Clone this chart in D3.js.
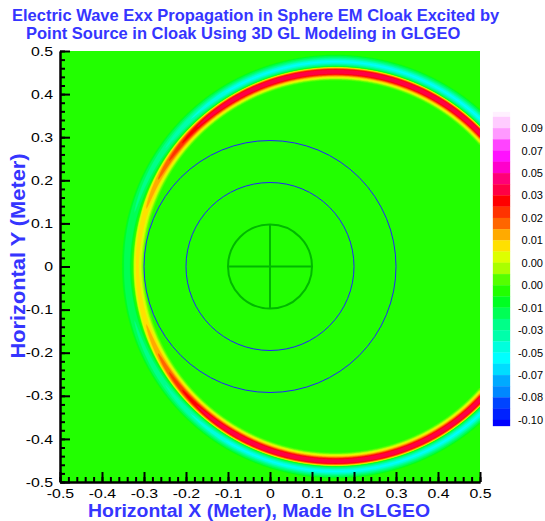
<!DOCTYPE html>
<html><head><meta charset="utf-8">
<script src="https://cdn.jsdelivr.net/npm/d3@7"></script>
<style>
body{margin:0;background:#fff}
svg{display:block}
text{font-family:'Liberation Sans',Arial,Helvetica,sans-serif}
</style>
</head><body>
<svg id="chart" width="545" height="521"></svg>
<script>
// ---------- data ----------
const titleLines = ["Electric Wave Exx Propagation in Sphere EM Cloak Excited by",
                    "Point Source in Cloak Using 3D GL Modeling in GLGEO"];
const xTitle = "Horizontal X (Meter), Made In GLGEO";
const yTitle = "Horizontal Y (Meter)";
const xTicks = [-0.5,-0.4,-0.3,-0.2,-0.1,0,0.1,0.2,0.3,0.4,0.5];
const yTicks = [-0.5,-0.4,-0.3,-0.2,-0.1,0,0.1,0.2,0.3,0.4,0.5];
const xTickLabels = ["-0.5","-0.4","-0.3","-0.2","-0.1","0","0.1","0.2","0.3","0.4","0.5"];
const yTickLabels = ["-0.5","-0.4","-0.3","-0.2","-0.1","0","0.1","0.2","0.3","0.4","0.5"];
// legend labels, top to bottom
const legendLabels = ["0.09","0.07","0.05","0.03","0.02","0.01","0.00","0.00","-0.01","-0.03","-0.05","-0.07","-0.08","-0.10"];
// contour level boundaries, top (high) to bottom (low)
const levelValues = [0.10,0.09,0.08,0.07,0.06,0.05,0.04,0.03,0.025,0.02,0.015,0.01,0.006,0.003,0.0015,0.0005,
                     -0.005,-0.01,-0.02,-0.03,-0.04,-0.05,-0.06,-0.07,-0.075,-0.08,-0.09,-0.10];
// band colours, top to bottom (one more than boundaries)
const levelColors = ["#fff0ff","#ffccff","#ff99ff","#ff44ff","#ff11ff","#ff00cc","#ff0077","#ff0044","#ff0000",
                     "#ff3300","#ff6600","#ffaa00","#ffe000","#ddff00","#aaff00","#55ff00","#22ff00","#00ff22",
                     "#00ff55","#00ff88","#00ffaa","#00ffdd","#00ffff","#00ddff","#00aaff","#0088ff","#0044ff",
                     "#0022ff","#0000ff"];
// wave front (ellipse around the displaced source), metres
const ringCenter = [0.156, 0];
const ringRadii = [0.472, 0.452];
// lobe shape, metres: positive width, negative offset (outward), negative width
const ringShape = [0.0095, 0.0238, 0.0107];
// amplitude of the two lobes versus angle around the front (deg, 0 = +x)
const ringAngles = [0, 120, 130, 145, 155, 165, 180];
const ringPos    = [0.039, 0.039, 0.034, 0.022, 0.014, 0.009, 0.007];
const ringNeg    = [-0.052, -0.052, -0.044, -0.03, -0.025, -0.02, -0.016];
// cloak geometry
const cloakRadii = [0.2, 0.3];
const coreRadius = 0.1;

// ---------- layout ----------
const svg = d3.select("#chart");
const X0 = 60, X1 = 480, Y0 = 51, Y1 = 482;
const x = d3.scaleLinear().domain([-0.5, 0.5]).range([X0, X1]);
const y = d3.scaleLinear().domain([-0.5, 0.5]).range([Y1, Y0]);
const blue = "#3535ff";

// ---------- field ----------
const posAt = d3.scaleLinear().domain(ringAngles).range(ringPos).clamp(true);
const negAt = d3.scaleLinear().domain(ringAngles).range(ringNeg).clamp(true);
const rMean = (ringRadii[0] + ringRadii[1]) / 2;
function field(px, py) {
  const u = (px - ringCenter[0]) / ringRadii[0], v = (py - ringCenter[1]) / ringRadii[1];
  const rho = Math.hypot(u, v);
  const th = Math.abs(Math.atan2(v, u)) * 180 / Math.PI;
  const d = (rho - 1) * rMean;
  const w1 = ringShape[0], dn = ringShape[1], w2 = ringShape[2];
  const a = d / w1, b = (d - dn) / w2;
  return posAt(th) * Math.exp(-a * a) + negAt(th) * Math.exp(-b * b);
}
const nx = X1 - X0, ny = Y1 - Y0;
const values = new Float64Array(nx * ny);
for (let j = 0; j < ny; j++) {
  const py = y.invert(Y0 + j + 0.5);
  for (let i = 0; i < nx; i++) {
    values[i + j * nx] = field(x.invert(X0 + i + 0.5), py);
  }
}
const order = d3.range(levelValues.length).sort((a, b) => levelValues[a] - levelValues[b]);
const contours = d3.contours().size([nx, ny]).thresholds(order.map(k => levelValues[k]))(values);

svg.append("clipPath").attr("id", "plotclip").append("rect")
  .attr("x", X0).attr("y", Y0).attr("width", nx).attr("height", ny);
const plot = svg.append("g").attr("clip-path", "url(#plotclip)");
plot.append("rect").attr("x", X0).attr("y", Y0).attr("width", nx).attr("height", ny)
  .attr("fill", levelColors[16]);
const fg = plot.append("g").attr("transform", `translate(${X0},${Y0})`);
const path = d3.geoPath();
contours.forEach((c, idx) => {
  const k = order[idx];
  fg.append("path").attr("d", path(c)).attr("fill", levelColors[k])
    .attr("stroke", levelColors[k]).attr("stroke-width", 0.3);
});

// cloak circles (drawn round in pixels)
const cx0 = x(0), cy0 = y(0);
const pxPerM = x(1) - x(0);
plot.selectAll("circle.cloak").data(cloakRadii).enter().append("circle")
  .attr("class", "cloak").attr("cx", cx0).attr("cy", cy0).attr("r", r => r * pxPerM)
  .attr("fill", "none").attr("stroke", "#2222ff").attr("stroke-width", 1);
plot.append("circle").attr("cx", cx0).attr("cy", cy0).attr("r", coreRadius * pxPerM)
  .attr("fill", "none").attr("stroke", "#00b800").attr("stroke-width", 2);
plot.append("line").attr("x1", cx0 - coreRadius * pxPerM).attr("x2", cx0 + coreRadius * pxPerM)
  .attr("y1", cy0).attr("y2", cy0).attr("stroke", "#00b800").attr("stroke-width", 2);
plot.append("line").attr("x1", cx0).attr("x2", cx0)
  .attr("y1", cy0 - coreRadius * pxPerM).attr("y2", cy0 + coreRadius * pxPerM)
  .attr("stroke", "#00b800").attr("stroke-width", 2);

// ---------- axes ----------
const minor = d3.range(0, 51).map(i => Math.round((-0.5 + i * 0.02) * 100) / 100);
const stretch = 1.22;
function styleAxis(g) {
  g.selectAll("line").attr("stroke", "#000").attr("stroke-width", 2);
  g.select(".domain").attr("stroke", "#000").attr("stroke-width", 2);
  g.selectAll("text").attr("fill", "#000").style("font-size", "13px")
    .style("font-family", "'Liberation Sans',Arial,sans-serif");
}
svg.append("g").attr("transform", `translate(${X0},0)`)
  .call(d3.axisLeft(y).tickValues(minor).tickSize(-5).tickSizeOuter(0).tickFormat(""))
  .call(styleAxis).call(g => g.selectAll("text").remove());
svg.append("g").attr("transform", `translate(0,${Y1})`)
  .call(d3.axisBottom(x).tickValues(minor).tickSize(-5).tickSizeOuter(0).tickFormat(""))
  .call(styleAxis).call(g => g.selectAll("text").remove());
svg.append("g").attr("transform", `translate(${X0},0)`)
  .call(d3.axisLeft(y).tickValues(yTicks).tickSize(-10).tickSizeOuter(0).tickPadding(5.7)
    .tickFormat((d, i) => yTickLabels[i]))
  .call(styleAxis)
  .call(g => g.selectAll("text").attr("transform", `scale(${stretch},1)`));
svg.append("g").attr("transform", `translate(0,${Y1})`)
  .call(d3.axisBottom(x).tickValues(xTicks).tickSize(-10).tickSizeOuter(0).tickPadding(6.5)
    .tickFormat((d, i) => xTickLabels[i]))
  .call(styleAxis)
  .call(g => g.selectAll("text").attr("transform", `scale(${stretch},1)`));

// ---------- titles ----------
svg.append("text").attr("x", 12).attr("y", 21).text(titleLines[0])
  .attr("fill", blue).style("font-weight", "bold").style("font-size", "16.5px");
svg.append("text").attr("x", 26).attr("y", 38.5).text(titleLines[1])
  .attr("fill", blue).style("font-weight", "bold").style("font-size", "16.5px");
svg.append("text").attr("x", 259).attr("y", 517).attr("text-anchor", "middle")
  .attr("textLength", 342).attr("lengthAdjust", "spacingAndGlyphs").text(xTitle)
  .attr("fill", blue).style("font-weight", "bold").style("font-size", "18px");
svg.append("text").attr("transform", "translate(25,256) rotate(-90)").attr("text-anchor", "middle")
  .attr("textLength", 205).attr("lengthAdjust", "spacingAndGlyphs")
  .text(yTitle).attr("fill", blue).style("font-weight", "bold").style("font-size", "19.4px");

// ---------- legend ----------
const legY = d3.scaleLinear().domain([0, levelValues.length - 1]).range([117, 420]);
const legend = svg.append("g");
legend.selectAll("rect").data(levelColors).enter().append("rect")
  .attr("x", 493).attr("width", 17)
  .attr("y", (c, j) => j === 0 ? legY(0) - 5 : legY(j - 1))
  .attr("height", (c, j) => j === 0 ? 5 : (j === levelColors.length - 1 ? 6 : legY(j) - legY(j - 1)))
  .attr("fill", c => c).attr("stroke", c => c).attr("stroke-width", 0.3);
legend.selectAll("text").data(legendLabels).enter().append("text")
  .attr("x", 543).attr("y", (t, i) => legY(2 * i + 1)).attr("dy", "0.35em")
  .attr("text-anchor", "end").style("font-size", "11px").attr("fill", "#000").text(t => t);
</script>
</body></html>
